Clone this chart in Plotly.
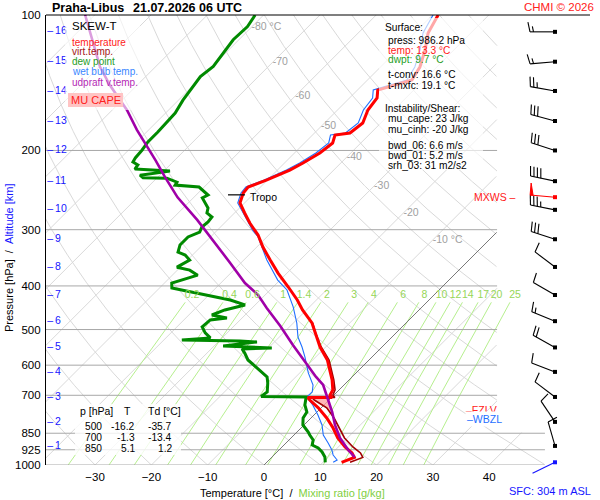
import numpy as np
import plotly.graph_objects as go

FONT = "Liberation Sans, Arial, sans-serif"

# --- Praha-Libus sounding 21.07.2026 06 UTC ---
# temperature
t_p = [986.2, 974.7, 962, 940.4, 912, 870.9, 827.5, 786.3, 746.6, 717.2, 708, 708,
       699, 681.3, 647.3, 615, 584.3, 546.8, 508.8, 483.5, 452.3, 429.8, 402.2, 374.5,
       350.4, 327.9, 308.3, 289.9, 275.4, 261.7, 248.6, 241.1, 232.6, 221.1, 213.3, 202.6,
       192.5, 184.8, 182.9, 173.8, 162.6, 152.9, 146.8, 139.5, 130.5, 119.6, 109.6, 100]
t_c = [13.3, 13.9, 14.7, 13.5, 11.2, 8.3, 5.7, 2.8, -0.5, -3.4, -4.2, 0.1,
       -0.7, -1.1, -3.0, -5.2, -7.4, -11.0, -14.4, -16.7, -20.7, -23.4, -27.3, -31.6,
       -35.3, -38.9, -41.9, -45.5, -48.2, -50.8, -52.0, -52.2, -50.1, -47.8, -46.7, -45.5,
       -45.0, -46.0, -43.7, -43.2, -44.6, -45.1, -46.4, -42.1, -43.0, -45.1, -47.6, -49.0]

# virtual temperature (lower part, above it lies under the temperature line)
tv_p = [986.2, 974.7, 962, 940.4, 912, 870.9, 827.5, 786.3, 746.6, 717.2, 708, 708,
        699, 681.3, 647.3, 615, 584.3, 546.8, 508.8, 483.5]
tv_c = [14.8, 15.4, 16.2, 15.0, 12.6, 9.5, 6.8, 4.1, 1.0, -2.6, -3.5, 0.6,
        -0.2, -0.7, -2.7, -4.9, -7.1, -10.8, -14.3, -16.6]

# dew point
td_p = [986.2, 960, 935.6, 916.7, 902.6, 880, 857.7, 844.7, 814.9, 786.3, 762.4, 735.6,
        706, 704, 688.2, 657.3, 637.1, 608.7, 584.3, 564, 552.3, 549.5, 546.7, 543.9,
        538.3, 532.9, 530.1, 527.4, 521.9, 508.8, 493.5, 476.1, 471.3, 464.2, 452.3, 440.9,
        429.8, 419, 404.3, 394.2, 378.6, 369, 363.4, 350.5, 341.5, 336.3, 324.4, 311.3,
        303.6, 295.9, 288.4, 281.1, 275.4, 268.4, 260.3, 254.9, 251.2, 247.4, 241.2, 238.8,
        235.2, 230.5, 230, 227, 222.3, 220, 215.4, 212.1, 207.8, 199.5, 191.5, 182,
        165.1, 154.6, 137, 130.1, 113.5, 106.1, 100]
td_c = [10.4, 9.4, 8.0, 6.6, 5.0, 4.3, 2.8, 2.0, -0.2, -1.4, -1.8, -3.4,
        -4.6, -12.7, -12.4, -13.9, -15.1, -18.5, -21.5, -23.3, -24.5, -19.4, -25.6, -28.4,
        -25.8, -23.1, -26.3, -36.8, -32.1, -33.9, -35.5, -35.3, -32.7, -35.9, -34.5, -31.8,
        -35.3, -40.3, -47.8, -48.7, -45.5, -47.8, -50.6, -49.6, -51.3, -53.1, -54.0, -54.0,
        -52.8, -53.3, -53.1, -53.3, -54.9, -55.6, -57.2, -58.4, -57.9, -59.0, -60.9, -65.5,
        -65.7, -68.2, -72.5, -73.5, -68.9, -75.5, -75.7, -77.1, -77.4, -77.6, -78.0, -78.0,
        -78.3, -79.2, -80.3, -79.8, -81.0, -80.8, -81.5]

# wet bulb temperature
tw_p = [986.2, 974.7, 950.1, 926.2, 893.9, 857.7, 814.9, 774.3, 735.6, 706, 688.2, 664.1,
        624, 575.5, 546.8, 519.5, 483.5, 445.3, 408.4, 388.3, 350.4, 327.9, 311, 300.4,
        282.1, 275.4, 261.7, 248.6, 241.1, 232.6, 221.1, 213.3, 202.6, 192.5, 184.8, 182.9,
        173.8, 162.6, 152.9, 146.8, 139.5, 130.5, 119.6, 109.6, 100]
tw_c = [11.8, 12.1, 10.5, 9.4, 7.5, 5.2, 3.2, 0.7, -2.0, -4.5, -4.4, -5.5,
        -8.5, -11.9, -14.2, -16.7, -19.4, -22.9, -27.0, -30.4, -35.9, -39.1, -41.6, -43.8,
        -47.2, -48.5, -51.2, -52.4, -52.6, -50.6, -48.4, -47.3, -46.2, -45.7, -46.8, -44.5,
        -44.0, -45.4, -45.9, -47.2, -43.0, -43.9, -46.0, -48.5, -49.9]

# MU parcel (updraft virtual temperature)
pc_p = [960, 926.2, 870.9, 814.9, 762.4, 709.4, 664.1, 637.1, 593, 540.9, 491, 447.9,
        418.7, 394.2, 355.6, 311, 285.3, 254.2, 229.3, 209.9, 192.5, 180, 162.6, 154.5,
        143.3, 130.5, 100]
pc_c = [14.7, 12.3, 8.7, 5.5, 2.7, -0.7, -3.7, -6.4, -10.7, -16.2, -21.8, -27.4,
        -31.3, -35.7, -41.9, -50.1, -55.4, -62.9, -68.7, -73.5, -78.3, -82.1, -87.4, -90.4,
        -94.8, -99.8, -111.7]

# wind at every km of altitude
alt_km = [1, 2, 3, 4, 5, 6, 7, 8, 9, 10, 11, 12, 13, 14, 15, 16]
alt_p = [907, 802, 706, 621, 548, 479, 419, 363, 315, 271, 234, 200, 172, 147.5, 127, 109]
wind_dir = [344, 326, 307, 291, 299, 292, 300, 307, 288, 281, 282, 288, 285, 280, 265, 270]
wind_kt = [10, 10, 10, 10, 20, 15, 10, 10, 30, 35, 40, 30, 30, 25, 15, 15]
sfc_p, sfc_dir, sfc_kt = 986.2, 244, 2
mxws_p, mxws_dir, mxws_kt = 254, 275, 50
tropo_p = 251

tbl_p = [500, 700, 850]
tbl_t = [-16.2, -1.3, 5.1]
tbl_td = [-35.7, -13.4, 1.2]

mixr = [0.2, 0.4, 0.6, 1, 1.4, 2, 3, 4, 6, 8, 10, 12, 14, 17, 20, 25]
isobars = [200, 300, 400, 500, 600, 700, 850, 925, 1000]
iso_lab_t = [-80, -70, -60, -50, -40, -30, -20, -10]
iso_lab_p = [106.4, 127.3, 151.4, 177, 206.9, 239.9, 275.4, 316.2]
temp_ticks = [-30, -20, -10, 0, 10, 20, 30, 40]
p_ticks = [100, 200, 300, 400, 500, 600, 700, 850, 925, 1000]

# --- skew-T geometry ---
PX = 5.63                 # px per degC
K = 450 / PX              # skew: degC per decade of pressure
XL, XR = (46 - 264) / PX, (590 - 264) / PX
BX = (555 - 264) / PX     # wind barb column


def sx(t, p):
    return np.asarray(t, float) + K * np.log10(1000.0 / np.asarray(p, float))


def xlim(p):
    return np.where(np.asarray(p) >= 845, 49.9, 41.4)


def gx(xs, ps, clip=True):
    xs = np.array(xs, float)
    if clip:
        xs[xs > xlim(ps)] = np.nan
    ox = [None if np.isnan(v) else float(v) for v in xs] + [None]
    oy = [float(v) for v in ps] + [None]
    return ox, oy


def td_from_w(w, p):
    e = p * w / (622.0 + w)
    a = np.log(e / 6.112)
    return 243.5 * a / (17.67 - a)


fig = go.Figure()


def line(x, y, color, width=1.0, **kw):
    fig.add_trace(go.Scatter(x=x, y=y, mode="lines", line=dict(color=color, width=width),
                             hoverinfo="skip", showlegend=False, **kw))


pg = np.logspace(2, 3, 500)

# isotherms
ix, iy = [], []
for t in range(-120, 60, 10):
    if t == 0:
        continue
    a, b = gx(sx(t, pg), pg)
    ix += a
    iy += b
line(ix, iy, "#d9d9d9")

# dry adiabats
ax_, ay_ = [], []
for th in range(-40, 200, 10):
    tt = (th + 273.15) * (pg / 1000.0) ** 0.2857 - 273.15
    a, b = gx(sx(tt, pg), pg)
    ax_ += a
    ay_ += b
line(ax_, ay_, "#d9d9d9")

# mixing ratio lines
pm = np.logspace(np.log10(435), 3, 120)
mx, my = [], []
for w in mixr:
    a, b = gx(sx(td_from_w(w, pm), pm), pm, clip=False)
    mx += a
    my += b
line(mx, my, "#b6ef8e")

# isobars
bx_, by_ = [], []
for p in isobars:
    bx_ += [XL, float(xlim(p)), None]
    by_ += [p, p, None]
line(bx_, by_, "#a8a8a8")

# 0 degC isotherm
a, b = gx(sx(0, pg), pg)
line(a, b, "#6a6a6a", 0.9)

# CAPE area (parcel warmer than environment virtual temperature)
pcape = np.linspace(708.3, 800, 300)
env = np.interp(pcape, tv_p[::-1], tv_c[::-1])
par = np.interp(pcape, pc_p[::-1], pc_c[::-1])
m = par > env
cx = list(sx(par[m], pcape[m])) + list(sx(env[m], pcape[m])[::-1])
cy = list(pcape[m]) + list(pcape[m][::-1])
fig.add_trace(go.Scatter(x=cx, y=cy, mode="lines", fill="toself", fillcolor="rgba(255,160,160,0.75)",
                         line=dict(width=0), hoverinfo="skip", showlegend=False))

# sounding curves
line(sx(tw_c, tw_p), tw_p, "#1f6fff", 1.1)
line(sx(td_c, td_p), td_p, "#008a00", 3)
line(sx(tv_c, tv_p), tv_p, "#a00000", 1.6)
line(sx(t_c, t_p), t_p, "#ff0000", 3)
line(sx(pc_c, pc_p), pc_p, "#a000a8", 2.6)

# tropopause marker
line([(228 - 264) / PX, (245 - 264) / PX], [tropo_p, tropo_p], "black", 1.2)

# grid labels
fig.add_trace(go.Scatter(
    x=sx(iso_lab_t, iso_lab_p), y=iso_lab_p, mode="text",
    text=[f"{t} °C" if t in (-80, -10) else str(t) for t in iso_lab_t],
    textposition="middle right", textfont=dict(family=FONT, size=10.5, color="#a0a0a0"),
    hoverinfo="skip", showlegend=False, cliponaxis=False))
fig.add_trace(go.Scatter(
    x=[float(sx(td_from_w(w, 415), 415)) for w in mixr], y=[419] * len(mixr), mode="text",
    text=[f"{w:g}" for w in mixr], textposition="middle center",
    textfont=dict(family=FONT, size=10.5, color="#96d657"),
    hoverinfo="skip", showlegend=False, cliponaxis=False))
fig.add_trace(go.Scatter(
    x=[XL + 0.2] * len(alt_km), y=alt_p, mode="text",
    text=[f"–\u2009{k}" for k in alt_km], textposition="middle right",
    textfont=dict(family=FONT, size=10.5, color="#1515ff"),
    hoverinfo="skip", showlegend=False, cliponaxis=False))


# --- wind barbs on their own overlay axes (so the surface barb is not clipped) ---
def barb(p0, wdir, spd):
    th = np.radians(wdir)
    d = np.array([np.sin(th), np.cos(th)])
    n = np.array([d[1], -d[0]])
    tl = np.radians(12)
    f = n * np.cos(tl) + d * np.sin(tl)
    segs, flags = [(np.zeros(2), 25 * d)], []
    s = 25.0
    k = int(round(spd / 5.0))
    n50, k = divmod(k, 10)
    n10, n5 = divmod(k, 2)
    for _ in range(n50):
        flags.append([s * d, s * d + 12 * n, (s - 3) * d])
        s -= 4.5
    for _ in range(n10):
        segs.append((s * d, s * d + 10 * f))
        s -= 3.5
    for _ in range(n5):
        segs.append((s * d, s * d + 5.5 * f))
        s -= 3.5

    def xy(v):
        return BX + v[0] / PX, p0 * 10 ** (-v[1] / 450.0)

    lx, ly, fx, fy = [], [], [], []
    for a_, b_ in segs:
        for v in (a_, b_):
            x, y = xy(v)
            lx.append(x)
            ly.append(y)
        lx.append(None)
        ly.append(None)
    for poly in flags:
        for v in poly + [poly[0]]:
            x, y = xy(v)
            fx.append(x)
            fy.append(y)
        fx.append(None)
        fy.append(None)
    return lx, ly, fx, fy


def add_barbs(ps, dirs, spds, color):
    LX, LY, FX, FY = [], [], [], []
    for p0, wd, sp in zip(ps, dirs, spds):
        a_, b_, c_, d_ = barb(p0, wd, sp)
        LX += a_
        LY += b_
        FX += c_
        FY += d_
    fig.add_trace(go.Scatter(x=LX, y=LY, mode="lines", line=dict(color=color, width=1.1),
                             xaxis="x2", yaxis="y2", hoverinfo="skip", showlegend=False))
    if FX:
        fig.add_trace(go.Scatter(x=FX, y=FY, mode="lines", fill="toself", fillcolor=color,
                                 line=dict(color=color, width=1), xaxis="x2", yaxis="y2",
                                 hoverinfo="skip", showlegend=False))
    fig.add_trace(go.Scatter(x=[BX] * len(ps), y=ps, mode="markers",
                             marker=dict(symbol="square", size=4, color=color),
                             xaxis="x2", yaxis="y2", hoverinfo="skip", showlegend=False))


add_barbs(alt_p, wind_dir, wind_kt, "black")
add_barbs([mxws_p], [mxws_dir], [mxws_kt], "#ff0000")
add_barbs([sfc_p], [sfc_dir], [sfc_kt], "#1515ff")


# --- texts and boxes (pixel positions in the 600x500 picture) ---
def px(x):
    return (x - 46) / 544.0


def py(y):
    return (475 - y) / 460.0


anns = []


def ann(x, y, text, color="black", size=10, anchor="left", **kw):
    anns.append(dict(x=px(x), y=py(y), xref="paper", yref="paper", text=text, showarrow=False,
                     xanchor=anchor, yanchor="middle",
                     font=dict(family=FONT, size=size, color=color), **kw))


ann(50, 7.5, "<b>Praha-Libus</b>", size=12.5)
ann(131, 7.5, "<b>21.07.2026 06 UTC</b>", size=12.5)
ann(596, 7, "CHMI © 2026", "#ff2020", 11.5, "right")

ann(70, 26, "SKEW-T", size=11.5)
ann(70, 42, "temperature", "#ff1a1a")
ann(70, 52, "virt.temp.", "#a31515")
ann(70, 62, "dew point", "#1f9e1f")
ann(70, 72, "wet bulb temp.", "#3a86ff")
ann(70, 82, "udpraft v.temp.", "#b528b5")
ann(96, 100, "MU CAPE", "#ff2020", 11, "center")

info = [(383, 28, "Surface:", "black"), (386, 40, "press: 986.2 hPa", "black"),
        (386, 50, "temp: 13.3 °C", "#ff1a1a"), (386, 60, "dwpt: 9.7 °C", "#1f9e1f"),
        (386, 74, "t-conv: 16.6 °C", "black"), (386, 85, "t-mxfc: 19.1 °C", "black"),
        (383, 108, "Instability/Shear:", "black"), (386, 118, "mu_cape: 23 J/kg", "black"),
        (386, 129, "mu_cinh: -20 J/kg", "black"), (386, 145, "bwd_06: 6.6 m/s", "black"),
        (386, 155, "bwd_01: 5.2 m/s", "black"), (386, 165, "srh_03: 31 m2/s2", "black")]
for x, y, s, c in info:
    ann(x, y, s, c, 10.2)

ann(78, 411, "p [hPa]", size=10.5)
ann(127, 411, "T", size=10.5, anchor="center")
ann(146, 411, "Td [°C]", size=10.5)
for i, (p, t, d) in enumerate(zip(tbl_p, tbl_t, tbl_td)):
    yy = 426 + 11 * i
    ann(93, yy, str(p), anchor="center", size=10.2)
    ann(137, yy, f"{t:.1f}", anchor="right", size=10.2)
    ann(174, yy, f"{d:.1f}", anchor="right", size=10.2)

ann(248, 197, "Tropo", size=10.5)
ann(518, 197, "MXWS –", "#ff2020", 10.5, "right")
ann(464, 410, "–FZLV", "#ff2020", 10.5)
ann(465, 419, "–WBZL", "#1f6fff", 10.5, bgcolor="white", borderpad=1)

ann(292, 493, "Temperature [°C]\u00a0\u00a0/\u00a0\u00a0<span style='color:#7fcf3f'>Mixing ratio [g/kg]</span>",
    size=11, anchor="center")
ann(550, 491, "SFC: 304 m ASL", "#1515ff", 11, "center")
anns.append(dict(x=px(9), y=py(258), xref="paper", yref="paper", showarrow=False, textangle=-90,
                 text="Pressure [hPa]\u00a0\u00a0/\u00a0\u00a0<span style='color:#1515ff'>Altitude [km]</span>",
                 xanchor="center", yanchor="middle", font=dict(family=FONT, size=11, color="black")))

shapes = []


def box(x0, y0, x1, y1, fill):
    shapes.append(dict(type="rect", xref="paper", yref="paper", x0=px(x0), x1=px(x1),
                       y0=py(y1), y1=py(y0), fillcolor=fill, line=dict(width=0), layer="above"))


box(65, 16, 140, 110, "rgba(255,255,255,0.62)")
box(68, 93, 123, 107, "#ffc4c4")
box(379, 18, 483, 170, "rgba(255,255,255,0.66)")
box(75, 404, 181, 455, "rgba(255,255,255,0.8)")
shapes.append(dict(type="line", xref="paper", yref="paper", x0=0, x1=1, y0=py(15), y1=py(15),
                   line=dict(color="black", width=1.2)))

d0 = 10 / 460.0
fig.update_layout(
    width=600, height=500,
    margin=dict(l=46, r=10, t=15, b=25, autoexpand=False),
    paper_bgcolor="white", plot_bgcolor="rgba(0,0,0,0)",
    hovermode=False, showlegend=False,
    font=dict(family=FONT, size=11, color="black"),
    xaxis=dict(range=[XL, XR], domain=[0, 1], anchor="y", tickvals=temp_ticks,
               ticktext=[str(t).replace("-", "\u2212") for t in temp_ticks], automargin=False,
               showgrid=False, zeroline=False, showline=False, ticks="", ticklabelstandoff=3,
               tickfont=dict(family=FONT, size=11.5, color="black")),
    yaxis=dict(type="log", range=[3, 2], domain=[d0, 1], anchor="x", tickvals=p_ticks,
               ticktext=[str(p) for p in p_ticks], showgrid=False, zeroline=False, automargin=False,
               showline=True, linecolor="black", linewidth=1.2, ticks="", ticklabelstandoff=2,
               tickfont=dict(family=FONT, size=11.5, color="black")),
    xaxis2=dict(range=[XL, XR], domain=[0, 1], anchor="y2", visible=False, automargin=False),
    yaxis2=dict(type="log", range=[3 + 10 / 450.0, 2], domain=[0, 1], anchor="x2", visible=False,
                automargin=False),
    annotations=anns, shapes=shapes,
)

# the page body has a default 8 px margin; drop it so the figure fills the window
fig.write_html("out.html", config={"displayModeBar": False},
               post_script="document.body.style.margin='0px';")
